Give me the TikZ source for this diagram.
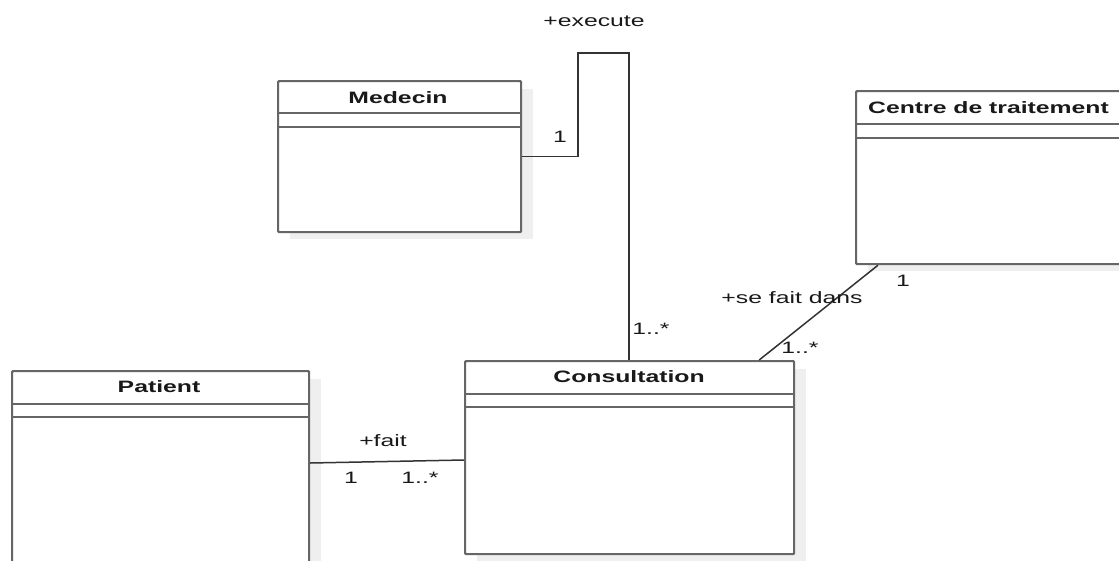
\documentclass[tikz,border=0pt]{standalone}
\usepackage{fontspec}
\setmainfont[FakeStretch=1.5]{Liberation Sans}
\usetikzlibrary{calc}
\definecolor{boxline}{HTML}{666666}
\definecolor{linkline}{HTML}{333333}
\definecolor{shadowgray}{HTML}{EFEFEF}
\tikzset{
  classbox/.style={draw=boxline, line width=2.2pt, fill=white, rounded corners=1pt,
    inner sep=0pt, anchor=north west},
  classname/.style={font=\fontsize{16.5}{18}\selectfont\bfseries, text=black!90, inner sep=0pt},
  divider/.style={draw=boxline, line width=1.9pt},
  link/.style={draw=linkline, line width=1.5pt},
  lbl/.style={font=\fontsize{16.5}{18}\selectfont, text=black!90, inner sep=0pt},
}
% class box: name, left, top, width, height, divider offsets
\newcommand{\umlclass}[7]{%
  \fill[shadowgray] (#2+13,#3+9) rectangle (#2+#4+13,#3+#5+8);
  \node[classbox, minimum width=#4pt, minimum height=#5pt] (#1) at (#2,#3) {};
  \draw[divider] ($(#1.north west)+(0,#6)$) -- ($(#1.north east)+(0,#6)$);
  \draw[divider] ($(#1.north west)+(0,#7)$) -- ($(#1.north east)+(0,#7)$);
}
\begin{document}
\begin{tikzpicture}[x=1pt,y=-1pt]
\useasboundingbox (0,0) rectangle (1119,560);
\clip (0,0) rectangle (1119,560);

% classes
\umlclass{med}{277}{80}{243}{151}{33}{47}
\node[classname] (medt) at (398,98) {Medecin};

\umlclass{ctr}{855}{90}{285}{173}{34}{48}
\node[classname, anchor=west] (ctrt) at (868,108) {Centre de traitement};

\umlclass{pat}{11}{370}{297}{240}{34}{47}
\node[classname] (patt) at (159,387) {Patient};

\umlclass{cons}{464}{360}{329}{193}{34}{47}
\node[classname] (const) at (629,377) {Consultation};

% association Medecin -- Consultation
\coordinate (e1) at (578,53);
\coordinate (e2) at (629,53);
\draw[link] (med.east) -| (e1) -- (e2) -- (e2 |- cons.north);
\node[lbl] (lexec) at (594,21) {+execute};
\node[lbl] (lm1) at (560,137) {1};
\node[lbl] (lm2) at (651,329) {1..*};

% association Centre de traitement -- Consultation
\draw[link] ($(ctr.south west)+(23,0)$) -- ($(cons.north east)+(-36,0)$);
\node[lbl] (ldans) at (792,298) {+se fait dans};
\node[lbl] (lc1) at (903,281) {1};
\node[lbl] (lc2) at (800,348) {1..*};

% association Patient -- Consultation
\draw[link] ($(pat.north east)+(0,93)$) -- ($(cons.north west)+(0,100)$);
\node[lbl] (lfait) at (383,441) {+fait};
\node[lbl] (lp1) at (351,478) {1};
\node[lbl] (lp2) at (420,478) {1..*};
\end{tikzpicture}
\end{document}
